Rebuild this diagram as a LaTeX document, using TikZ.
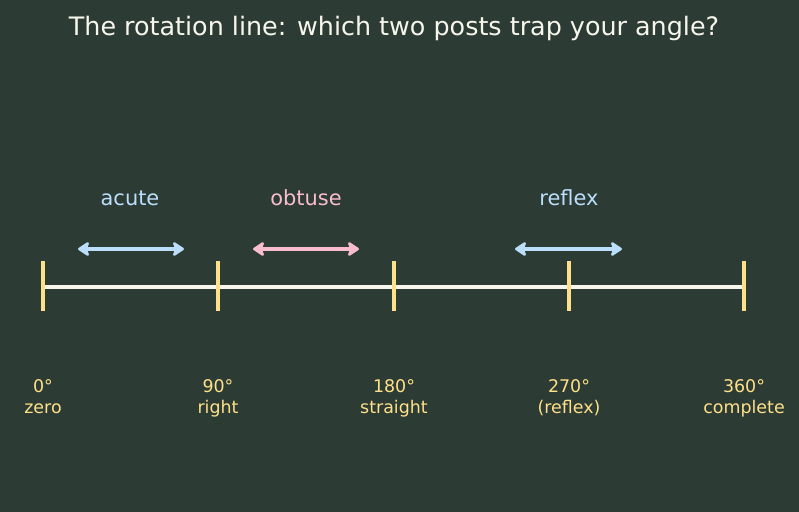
\documentclass[tikz,border=0pt]{standalone}
\usepackage{fontspec}
\setmainfont{DejaVu Sans}
\usetikzlibrary{arrows.meta, positioning}
\definecolor{my_bg}{RGB}{44, 60, 52}
\definecolor{my_cream}{RGB}{246, 246, 236}
\definecolor{my_yellow}{RGB}{255, 224, 138}
\definecolor{my_blue}{RGB}{187, 222, 251}
\definecolor{my_pink}{RGB}{248, 187, 208}
\tikzset {
  title/.style = {text=my_cream, font=\fontsize{25.5}{30}\selectfont},
  kind/.style = {font=\fontsize{21}{25}\selectfont},
  postlabel/.style = {text=my_yellow, align=center, font=\fontsize{17.5}{20.5}\selectfont},
  rotline/.style = {draw=my_cream, line width=4bp},
  post/.style = {draw=my_yellow, line width=4.2bp},
  span/.style = {{Stealth[length=13bp, width=17bp, inset=3bp, round]}-{Stealth[length=13bp, width=17bp, inset=3bp, round]}, line width=4bp}
}

\begin{document}
\begin{tikzpicture}[x=1bp, y=-1bp]

    \fill[my_bg] (0,0) rectangle (799,512);
    \useasboundingbox (0,0) rectangle (799,512);

    \node[title] (title) at (394,28) {The rotation line: which two posts trap your angle?};

    % posts on the line
    \foreach \name/\x/\deg/\txt in {p0/43/0/zero, p1/218/90/right, p2/394/180/straight, p3/569/270/(reflex), p4/744/360/complete} {
      \coordinate (\name) at (\x,287);
      \coordinate (\name top) at (\x,261);
      \coordinate (\name bot) at (\x,311);
      \node[postlabel] (\name lab) at (\x,399) {\strut\deg°\\\txt\strut};
    }

    \draw[rotline] (p0) -- (p4);
    \foreach \name in {p0, p1, p2, p3, p4}
      \draw[post] (\name top) -- (\name bot);

    % angle kinds
    \node[kind, text=my_blue] (acute) at (130,198) {acute};
    \node[kind, text=my_pink] (obtuse) at (306,198) {obtuse};
    \node[kind, text=my_blue] (reflex) at (569,198) {reflex};

    \coordinate (a1) at (78,249);  \coordinate (a2) at (184,249);
    \coordinate (o1) at (253,249); \coordinate (o2) at (359,249);
    \coordinate (r1) at (515,249); \coordinate (r2) at (622,249);

    \draw[span, my_blue] (a1) -- (a2);
    \draw[span, my_pink] (o1) -- (o2);
    \draw[span, my_blue] (r1) -- (r2);

\end{tikzpicture}
\end{document}
